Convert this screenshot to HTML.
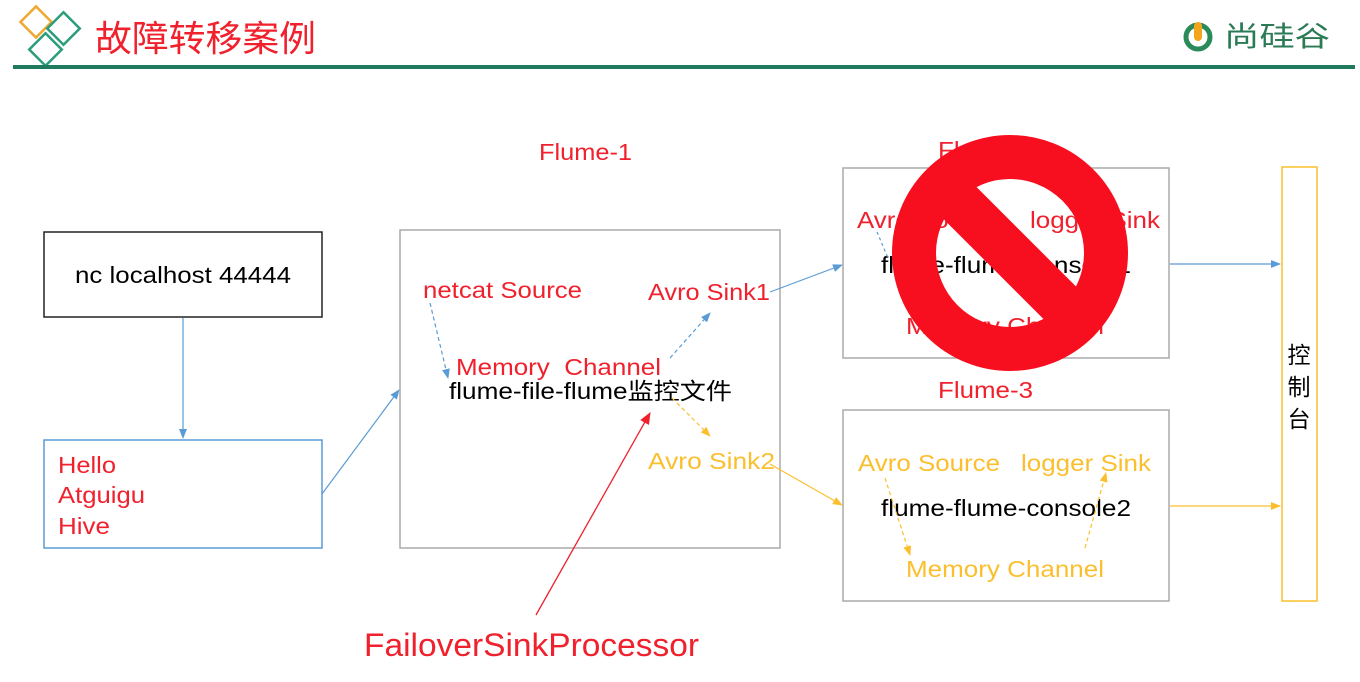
<!DOCTYPE html>
<html><head><meta charset="utf-8"><style>
html,body{margin:0;padding:0;background:#fff;}
svg{display:block;}
text{font-family:"Liberation Sans","Noto Sans CJK SC",sans-serif;}
</style></head><body>
<svg width="1360" height="682" viewBox="0 0 1360 682" xmlns="http://www.w3.org/2000/svg">
<defs>
<marker id="ab" markerWidth="10" markerHeight="8" refX="9" refY="4" orient="auto" markerUnits="userSpaceOnUse"><path d="M0,0 L10,4 L0,8 z" fill="#5b9bd5"/></marker>
<marker id="ay" markerWidth="10" markerHeight="8" refX="9" refY="4" orient="auto" markerUnits="userSpaceOnUse"><path d="M0,0 L10,4 L0,8 z" fill="#fbbf2e"/></marker>
<marker id="ar" markerWidth="12" markerHeight="10" refX="11" refY="5" orient="auto" markerUnits="userSpaceOnUse"><path d="M0,0 L12,5 L0,10 z" fill="#f0202c"/></marker>
</defs>
<!-- header -->
<rect x="25" y="11" width="22" height="22" transform="rotate(45 36 22)" fill="none" stroke="#f0a830" stroke-width="2.5"/>
<rect x="52" y="17" width="23" height="23" transform="rotate(45 63.5 28.5)" fill="none" stroke="#2a9d7c" stroke-width="2.5"/>
<rect x="34" y="38" width="23" height="23" transform="rotate(45 45.5 49.5)" fill="none" stroke="#2a9d7c" stroke-width="2.5"/>
<rect x="13" y="65" width="1342" height="4" fill="#1f7a5e"/>
<text x="95" y="51" font-size="36" fill="#f0202c" textLength="221" lengthAdjust="spacingAndGlyphs">故障转移案例</text>
<circle cx="1198" cy="37" r="12" fill="none" stroke="#2a8a58" stroke-width="5"/>
<rect x="1194" y="22" width="8" height="19" rx="4" fill="#f3a51d"/>
<rect x="1186" y="20" width="24" height="8" fill="#fff" opacity="0"/>
<text x="1224" y="46" font-size="28" fill="#2a7a55" textLength="106" lengthAdjust="spacingAndGlyphs">尚硅谷</text>
<!-- boxes -->
<rect x="44" y="232" width="278" height="85" fill="#fff" stroke="#222" stroke-width="1.5"/>
<text x="75" y="283" font-size="23" fill="#000" textLength="216" lengthAdjust="spacingAndGlyphs">nc localhost 44444</text>
<rect x="44" y="440" width="278" height="108" fill="#fff" stroke="#5b9bd5" stroke-width="1.5"/>
<text x="58" y="473" font-size="23" fill="#f0202c" textLength="58" lengthAdjust="spacingAndGlyphs">Hello</text>
<text x="58" y="503" font-size="23" fill="#f0202c" textLength="87" lengthAdjust="spacingAndGlyphs">Atguigu</text>
<text x="58" y="534" font-size="23" fill="#f0202c" textLength="52" lengthAdjust="spacingAndGlyphs">Hive</text>
<line x1="183" y1="318" x2="183" y2="438" stroke="#5b9bd5" stroke-width="1.2" marker-end="url(#ab)"/>
<line x1="322" y1="494" x2="399" y2="390" stroke="#5b9bd5" stroke-width="1.2" marker-end="url(#ab)"/>
<text x="539" y="160" font-size="23" fill="#f0202c" textLength="93" lengthAdjust="spacingAndGlyphs">Flume-1</text>
<rect x="400" y="230" width="380" height="318" fill="none" stroke="#aaa" stroke-width="1.5"/>
<text x="423" y="298" font-size="23" fill="#f0202c" textLength="159" lengthAdjust="spacingAndGlyphs">netcat Source</text>
<text x="648" y="300" font-size="23" fill="#f0202c" textLength="122" lengthAdjust="spacingAndGlyphs">Avro Sink1</text>
<text x="456" y="375" font-size="23" fill="#f0202c" textLength="205" lengthAdjust="spacingAndGlyphs" xml:space="preserve">Memory  Channel</text>
<text x="449" y="399" font-size="23" fill="#000" textLength="283" lengthAdjust="spacingAndGlyphs">flume-file-flume监控文件</text>
<text x="648" y="469" font-size="23" fill="#fbbf2e" textLength="127" lengthAdjust="spacingAndGlyphs">Avro Sink2</text>
<line x1="430" y1="303" x2="448" y2="378" stroke="#5b9bd5" stroke-width="1.2" stroke-dasharray="4,3" marker-end="url(#ab)"/>
<line x1="670" y1="358" x2="710" y2="313" stroke="#5b9bd5" stroke-width="1.2" stroke-dasharray="4,3" marker-end="url(#ab)"/>
<line x1="672" y1="398" x2="710" y2="436" stroke="#fbbf2e" stroke-width="1.2" stroke-dasharray="4,3" marker-end="url(#ay)"/>
<line x1="770" y1="292" x2="842" y2="265" stroke="#5b9bd5" stroke-width="1.2" marker-end="url(#ab)"/>
<line x1="770" y1="464" x2="842" y2="505" stroke="#fbbf2e" stroke-width="1.2" marker-end="url(#ay)"/>
<line x1="536" y1="615" x2="650" y2="413" stroke="#f0202c" stroke-width="1.3" marker-end="url(#ar)"/>
<text x="364" y="656" font-size="32" fill="#f0202c" textLength="335" lengthAdjust="spacingAndGlyphs">FailoverSinkProcessor</text>
<!-- flume 2 -->
<text x="938" y="158" font-size="23" fill="#f0202c" textLength="95" lengthAdjust="spacingAndGlyphs">Flume-2</text>
<rect x="843" y="168" width="326" height="190" fill="none" stroke="#aaa" stroke-width="1.5"/>
<text x="857" y="228" font-size="23" fill="#f0202c" textLength="142" lengthAdjust="spacingAndGlyphs">Avro Source</text>
<text x="1030" y="228" font-size="23" fill="#f0202c" textLength="130" lengthAdjust="spacingAndGlyphs">logger Sink</text>
<text x="881" y="273" font-size="23" fill="#000" textLength="250" lengthAdjust="spacingAndGlyphs">flume-flume-console1</text>
<text x="906" y="334" font-size="23" fill="#f0202c" textLength="198" lengthAdjust="spacingAndGlyphs">Memory Channel</text>
<line x1="877" y1="232" x2="888" y2="258" stroke="#5b9bd5" stroke-width="1.2" stroke-dasharray="3,3"/>
<line x1="1170" y1="264" x2="1280" y2="264" stroke="#5b9bd5" stroke-width="1.2" marker-end="url(#ab)"/>
<!-- flume 3 -->
<text x="938" y="398" font-size="23" fill="#f0202c" textLength="95" lengthAdjust="spacingAndGlyphs">Flume-3</text>
<rect x="843" y="410" width="326" height="191" fill="none" stroke="#aaa" stroke-width="1.5"/>
<text x="858" y="471" font-size="23" fill="#fbbf2e" textLength="142" lengthAdjust="spacingAndGlyphs">Avro Source</text>
<text x="1021" y="471" font-size="23" fill="#fbbf2e" textLength="130" lengthAdjust="spacingAndGlyphs">logger Sink</text>
<text x="881" y="516" font-size="23" fill="#000" textLength="250" lengthAdjust="spacingAndGlyphs">flume-flume-console2</text>
<text x="906" y="577" font-size="23" fill="#fbbf2e" textLength="198" lengthAdjust="spacingAndGlyphs">Memory Channel</text>
<line x1="885" y1="478" x2="910" y2="555" stroke="#fbbf2e" stroke-width="1.2" stroke-dasharray="4,3" marker-end="url(#ay)"/>
<line x1="1085" y1="548" x2="1106" y2="473" stroke="#fbbf2e" stroke-width="1.2" stroke-dasharray="4,3" marker-end="url(#ay)"/>
<line x1="1170" y1="506" x2="1280" y2="506" stroke="#fbbf2e" stroke-width="1.2" marker-end="url(#ay)"/>
<!-- console -->
<rect x="1282" y="167" width="35" height="434" fill="#fff" stroke="#fbbf2e" stroke-width="1.5"/>
<text x="1299" y="363" font-size="23" text-anchor="middle" fill="#000">控</text>
<text x="1299" y="395" font-size="23" text-anchor="middle" fill="#000">制</text>
<text x="1299" y="427" font-size="23" text-anchor="middle" fill="#000">台</text>
<!-- prohibition -->
<circle cx="1010" cy="253" r="96" fill="none" stroke="#f70f1f" stroke-width="44"/>
<line x1="940" y1="183" x2="1080" y2="323" stroke="#f70f1f" stroke-width="46"/>
</svg>
</body></html>
